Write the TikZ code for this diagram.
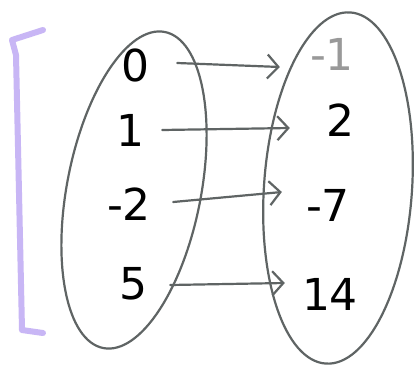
\documentclass[tikz,border=0pt]{standalone}
\usepackage{fontspec}
\setmainfont{DejaVu Sans}
\usetikzlibrary{shapes.geometric,arrows.meta}
\definecolor{lav}{RGB}{200,182,245}
\definecolor{pencil}{RGB}{95,100,100}
\begin{document}
\begin{tikzpicture}[x=1pt,y=-1pt,
  blob/.style={draw=pencil,line width=2.2pt,ellipse,inner sep=0pt},
  num/.style={font=\fontsize{44}{44}\selectfont,text=black,inner sep=0pt},
  maparrow/.style={draw=pencil,line width=2.2pt,line cap=round,-{Straight Barb[length=11pt,width=24pt,line width=2.2pt]}}]
\useasboundingbox[fill=white] (0,0) rectangle (420,367);
% left and right sets
\node[blob,minimum width=134pt,minimum height=322pt,rotate=-11] (A) at (134,190) {};
\node[blob,minimum width=148pt,minimum height=352pt,rotate=-4] (B) at (338,188) {};
% purple bracket
\coordinate (bt) at (43,30);
\coordinate (bb) at (43,333);
\draw[draw=lav,line width=6pt,line cap=round,line join=round]
  (bt) -- (12,40) -- (16,55) -- (22,330) -- (bb);
% domain
\node[num] (a0) at (135,65) {0};
\node[num] (a1) at (130,130) {1};
\node[num] (a2) at (129,204) {-2};
\node[num] (a3) at (133,284) {5};
% range
\node[num,text=black!40] (b0) at (332,54) {-1};
\node[num] (b1) at (340,120) {2};
\node[num] (b2) at (328,205) {-7};
\node[num] (b3) at (330,294) {14};
% arrows
\draw[maparrow] ([xshift=28pt,yshift=2pt]a0.east) -- ([xshift=-30pt,yshift=-13pt]b0.west);
\draw[maparrow] ([xshift=18pt]a1.east) -- ([xshift=-36pt,yshift=-8pt]b1.west);
\draw[maparrow] ([xshift=22pt,yshift=2pt]a2.east) -- ([xshift=-24pt,yshift=13pt]b2.west);
\draw[maparrow] ([xshift=23pt,yshift=-1pt]a3.east) -- ([xshift=-17pt,yshift=11pt]b3.west);
\end{tikzpicture}
\end{document}
